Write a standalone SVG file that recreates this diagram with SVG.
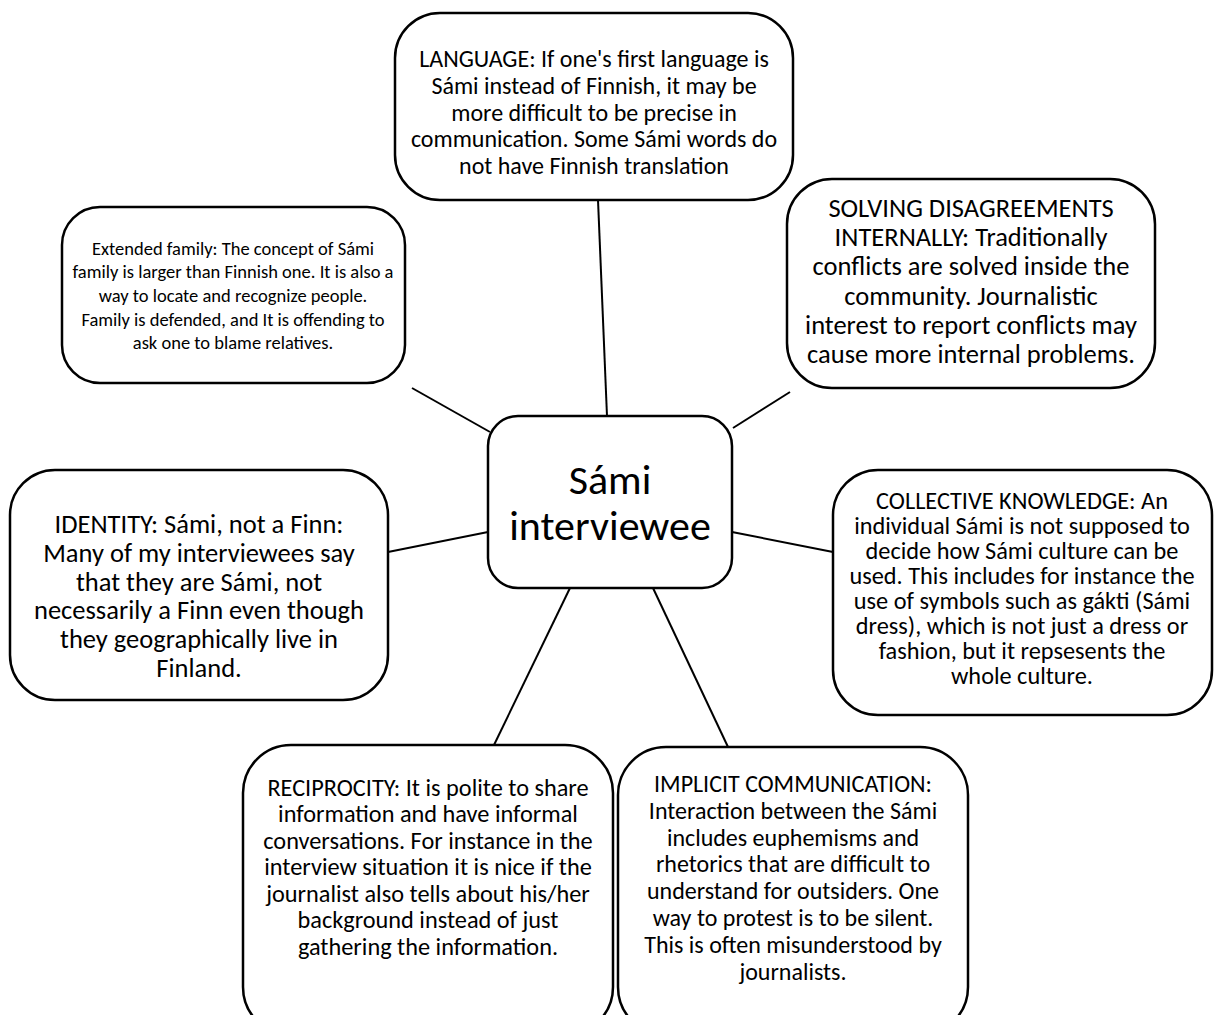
<svg xmlns="http://www.w3.org/2000/svg" width="1216" height="1015" viewBox="0 0 1216 1015">
<style>
.box{fill:#fff;stroke:#000;stroke-width:2.5}
.con line{stroke:#000;stroke-width:2}
text{font-family:Carlito,Lato,"Liberation Sans",sans-serif;fill:#000;text-anchor:middle}
.t24{font-size:24px}
.t245{font-size:24.3px}
.t185{font-size:18.5px}
.t265{font-size:26.5px}
.t42{font-size:42px}
</style>
<rect width="1216" height="1015" fill="#fff"/>
<g class="con">
<line x1="598" y1="200" x2="607" y2="416"/>
<line x1="412" y1="388" x2="490" y2="432"/>
<line x1="733" y1="428" x2="790" y2="392"/>
<line x1="388" y1="552" x2="488" y2="532"/>
<line x1="732" y1="532" x2="833" y2="552"/>
<line x1="570" y1="588" x2="494" y2="745"/>
<line x1="653" y1="588" x2="728" y2="747"/>
</g>
<g id="language">
<rect class="box" x="395" y="13" width="398" height="187" rx="45"/>
<text class="t24"><tspan x="594" y="67">LANGUAGE: If one's first language is</tspan><tspan x="594" y="94">Sámi instead of Finnish, it may be</tspan><tspan x="594" y="121">more difficult to be precise in</tspan><tspan x="594" y="147">communication. Some Sámi words do</tspan><tspan x="594" y="174">not have Finnish translation</tspan></text>
</g>
<g id="family">
<rect class="box" x="62" y="207" width="343" height="176" rx="38"/>
<text class="t185"><tspan x="233" y="255">Extended family: The concept of Sámi</tspan><tspan x="233" y="278">family is larger than Finnish one. It is also a</tspan><tspan x="233" y="302">way to locate and recognize people.</tspan><tspan x="233" y="326">Family is defended, and It is offending to</tspan><tspan x="233" y="349">ask one to blame relatives.</tspan></text>
</g>
<g id="solving">
<rect class="box" x="787" y="179" width="368" height="209" rx="45"/>
<text class="t265"><tspan x="971" y="217">SOLVING DISAGREEMENTS</tspan><tspan x="971" y="246">INTERNALLY: Traditionally</tspan><tspan x="971" y="275">conflicts are solved inside the</tspan><tspan x="971" y="305">community. Journalistic</tspan><tspan x="971" y="334">interest to report conflicts may</tspan><tspan x="971" y="363">cause more internal problems.</tspan></text>
</g>
<g id="center">
<rect class="box" x="488" y="416" width="244" height="172" rx="30"/>
<text class="t42"><tspan x="610" y="494">Sámi</tspan><tspan x="610" y="540">interviewee</tspan></text>
</g>
<g id="identity">
<rect class="box" x="10" y="470" width="378" height="230" rx="45"/>
<text class="t265"><tspan x="199" y="533">IDENTITY: Sámi, not a Finn:</tspan><tspan x="199" y="562">Many of my interviewees say</tspan><tspan x="199" y="591">that they are Sámi, not</tspan><tspan x="199" y="619">necessarily a Finn even though</tspan><tspan x="199" y="648">they geographically live in</tspan><tspan x="199" y="677">Finland.</tspan></text>
</g>
<g id="collective">
<rect class="box" x="833" y="470" width="379" height="245" rx="45"/>
<text class="t245"><tspan x="1022" y="509">COLLECTIVE KNOWLEDGE: An</tspan><tspan x="1022" y="534">individual Sámi is not supposed to</tspan><tspan x="1022" y="559">decide how Sámi culture can be</tspan><tspan x="1022" y="584">used. This includes for instance the</tspan><tspan x="1022" y="609">use of symbols such as gákti (Sámi</tspan><tspan x="1022" y="634">dress), which is not just a dress or</tspan><tspan x="1022" y="659">fashion, but it repsesents the</tspan><tspan x="1022" y="684">whole culture.</tspan></text>
</g>
<g id="reciprocity">
<rect class="box" x="243" y="745" width="370" height="290" rx="48"/>
<text class="t245"><tspan x="428" y="796">RECIPROCITY: It is polite to share</tspan><tspan x="428" y="822">information and have informal</tspan><tspan x="428" y="849">conversations. For instance  in the</tspan><tspan x="428" y="875">interview situation it is nice if the</tspan><tspan x="428" y="902">journalist also tells about his/her</tspan><tspan x="428" y="928">background instead of just</tspan><tspan x="428" y="955">gathering the information.</tspan></text>
</g>
<g id="implicit">
<rect class="box" x="618" y="747" width="350" height="288" rx="48"/>
<text class="t24"><tspan x="793" y="792">IMPLICIT COMMUNICATION:</tspan><tspan x="793" y="819">Interaction between the Sámi</tspan><tspan x="793" y="846">includes euphemisms and</tspan><tspan x="793" y="872">rhetorics that are difficult to</tspan><tspan x="793" y="899">understand for outsiders. One</tspan><tspan x="793" y="926">way to protest is to be silent.</tspan><tspan x="793" y="953">This is often misunderstood by</tspan><tspan x="793" y="980">journalists.</tspan></text>
</g>
</svg>
